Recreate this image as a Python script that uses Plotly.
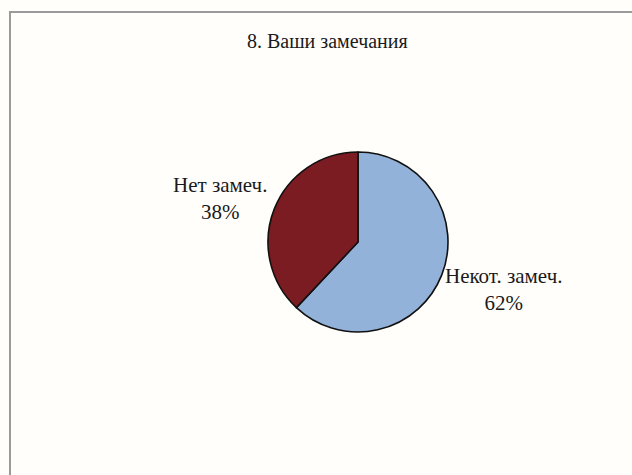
import plotly.graph_objects as go

title_text = "8. Ваши замечания"
labels = ["Некот. замеч.", "Нет замеч."]
values = [62, 38]
colors = ["#93b2da", "#7b1c22"]
# label anchor positions in paper coords (x, y)
label_pos = [(503/632, 1-289/475), (220/632, 1-198/475)]

fig = go.Figure()
fig.add_trace(go.Pie(
    labels=labels,
    values=values,
    sort=False,
    direction="clockwise",
    rotation=0,
    marker=dict(colors=colors, line=dict(color="#111111", width=1.6)),
    textinfo="none",
    hoverinfo="label+percent",
    showlegend=False,
    domain=dict(x=[268/632, 448/632], y=[(475-332)/475, (475-152)/475]),
))

total = sum(values)
for lab, val, (px, py) in zip(labels, values, label_pos):
    fig.add_annotation(
        x=px, y=py, xref="paper", yref="paper",
        xanchor="center", yanchor="middle",
        text=f"{lab}<br>{round(100*val/total)}%",
        showarrow=False, align="center",
        font=dict(family="Liberation Serif", size=21, color="#1a1a1a"),
    )

fig.add_annotation(
    x=327/632, y=1-41/475, xref="paper", yref="paper",
    xanchor="center", yanchor="middle",
    text=title_text, showarrow=False,
    font=dict(family="Liberation Serif", size=20, color="#1a1a1a"),
)

fig.add_shape(type="rect", xref="paper", yref="paper",
              x0=10/632, y0=-0.02, x1=1.02, y1=1-12/475,
              line=dict(color="#9a9a9a", width=2), fillcolor="rgba(0,0,0,0)")

fig.update_layout(
    width=632, height=475,
    margin=dict(l=0, r=0, t=0, b=0),
    paper_bgcolor="#fffefb",
    plot_bgcolor="#fffefb",
)

fig.write_html("out.html")
